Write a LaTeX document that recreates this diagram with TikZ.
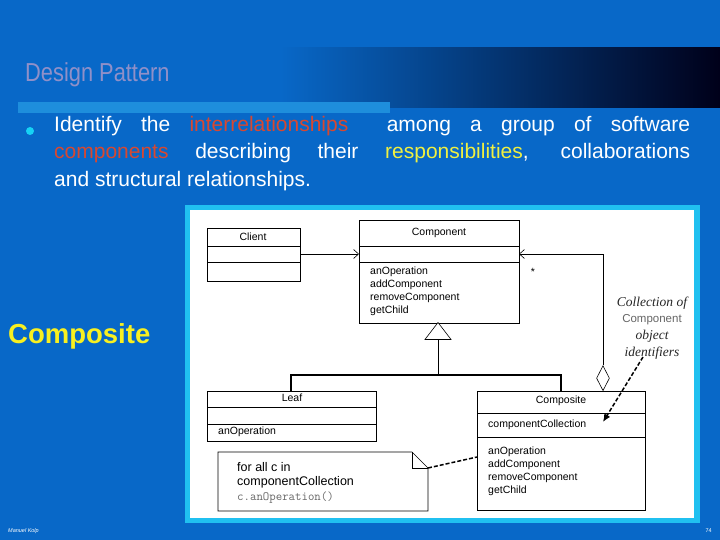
\documentclass[tikz,border=0pt]{standalone}
\usepackage{fontspec}
\setmainfont{Liberation Sans}
\newfontfamily\narrow[FakeStretch=0.84]{Liberation Sans}
\newfontfamily\serifit{Liberation Serif}
\usetikzlibrary{arrows.meta,shapes.geometric}
\definecolor{bg}{HTML}{0868C8}
\definecolor{strip}{HTML}{1E8EDC}
\definecolor{frame}{HTML}{20C0F0}
\definecolor{titlec}{HTML}{9090C8}
\definecolor{redt}{HTML}{D84830}
\definecolor{yelt}{HTML}{F0F040}
\definecolor{yelc}{HTML}{F8F020}
\tikzset{x=1pt,y=-1pt,
 umlbox/.style={draw=black,line width=1pt},
 umlrow/.style={draw=black,line width=0.6pt},
 umltxt/.style={font=\fontsize{10.5}{13}\selectfont,inner sep=0pt},
 conn/.style={draw=black,line width=0.6pt},
 dashc/.style={draw=black,line width=1.5pt,dash pattern=on 4pt off 2pt}}
\begin{document}
\begin{tikzpicture}
\useasboundingbox (0,0) rectangle (720,540);
\fill[bg] (0,0) rectangle (720,540);
\shade[left color=bg,right color=black!90!blue] (280,48) rectangle (720,108);
\fill[bg] (0,48) rectangle (280,108);
\fill[strip] (18,102) rectangle (390,113);
\node[anchor=west,text=titlec,font=\narrow\fontsize{26}{30}\selectfont,inner sep=0pt] (title) at (25,75) {Design Pattern};
\fill[frame!70!cyan] (30,131) circle (4);
\node[anchor=north west,text width=636pt,align=justify,text=white,inner sep=0pt,
 font=\fontsize{21}{27.5}\selectfont] (body) at (54,116)
 {Identify the \textcolor{redt}{interrelationships}\ \ among a group of software\linebreak \textcolor{redt}{components} describing their \textcolor{yelt}{responsibilities}, collaborations\linebreak and structural relationships.\par};
% frame
\fill[frame] (185,205) rectangle (700,523);
\fill[white] (190,210) rectangle (694,518);
\node[anchor=west,text=yelc,font=\bfseries\fontsize{27.5}{30}\selectfont,inner sep=0pt] (compo) at (8,336) {Composite};
% Client
\draw[umlbox] (207,229) rectangle (300,281);
\draw[umlrow] (207,246) -- (300,246) (207,262) -- (300,262);
\node[umltxt] (client) at (253,237) {Client};
% Component
\draw[umlbox] (359,221) rectangle (519,323);
\draw[umlrow] (359,246) -- (519,246) (359,262) -- (519,262);
\node[umltxt] (comp) at (439,233) {Component};
\node[umltxt,anchor=north west,align=left] (compops) at (370,267) {anOperation\\addComponent\\removeComponent\\getChild};
% Leaf
\draw[umlbox] (207,391) rectangle (376,441);
\draw[umlrow] (207,407) -- (376,407) (207,424) -- (376,424);
\node[umltxt] (leaf) at (292,398) {Leaf};
\node[umltxt,anchor=west] (leafop) at (218,432) {anOperation};
% Composite
\draw[umlbox] (477,391) rectangle (645,510);
\draw[umlrow] (477,413) -- (645,413) (477,437) -- (645,437);
\node[umltxt] (compos) at (561,401) {Composite};
\node[umltxt,anchor=west] (coll) at (488,425) {componentCollection};
\node[umltxt,anchor=north west,align=left] (cops) at (488,447) {anOperation\\addComponent\\removeComponent\\getChild};
% note
\draw[umlrow] (218,452) -- (412,452) -- (428,468) -- (428,511) -- (218,511) -- cycle;
\draw[umlrow] (412,452) -- (412,468) -- (428,468);
\node[umltxt,anchor=north west,align=left,font=\fontsize{12.5}{14.5}\selectfont] (note) at (237,462) {for all c in\\componentCollection\\{\ttfamily\color{black!60}c.anOperation()}};
% connectors
\coordinate (cl) at (300,254); \coordinate (cpl) at (359,254);
\draw[conn,-{Straight Barb[length=5pt,width=9pt]}] (cl) -- (cpl);
\coordinate (apex) at (438,322);
\node[isosceles triangle,isosceles triangle apex angle=75,shape border rotate=90,draw=black,fill=white,line width=0.6pt,minimum height=17pt,inner sep=0pt,anchor=apex] (tri) at (apex) {};
\coordinate (j) at (438,375);
\draw[conn,line width=1pt] (tri.south) -- (j);
\draw[conn,line width=1.3pt] (291,391) -- (291,375) -- (561,375) -- (561,391);
\node[diamond,draw=black,fill=white,line width=0.6pt,minimum width=13pt,minimum height=25pt,inner sep=0pt,anchor=south] (dia) at (603,391) {};
\coordinate (cr) at (519,254);
\draw[conn,-{Straight Barb[length=5pt,width=9pt]}] (dia.north) |- (cr);
\node[umltxt] (star) at (533,272) {*};
\node[align=center,font=\fontsize{13.5}{16.8}\selectfont,inner sep=0pt,text=black!85] (ann) at (652,328)
 {{\serifit\itshape Collection of}\\{\color{black!60}\fontsize{11.5}{16.8}\selectfont Component}\\{\serifit\itshape object}\\{\serifit\itshape identifiers}};
\coordinate (a1) at (643,357); \coordinate (a2) at (603,422);
\draw[dashc,-{Latex[length=8pt,width=7pt]}] (a1) -- (a2);
\coordinate (n1) at (428,468); \coordinate (n2) at (477,457);
\draw[dashc] (n1) -- (n2);
% footer
\node[anchor=west,text=white,font=\itshape\fontsize{5.5}{6}\selectfont,inner sep=0pt] (auth) at (8,531) {Manuel Kolp};
\node[anchor=east,text=white,font=\fontsize{5.5}{6}\selectfont,inner sep=0pt] (pg) at (712,531) {74};
\end{tikzpicture}
\end{document}
